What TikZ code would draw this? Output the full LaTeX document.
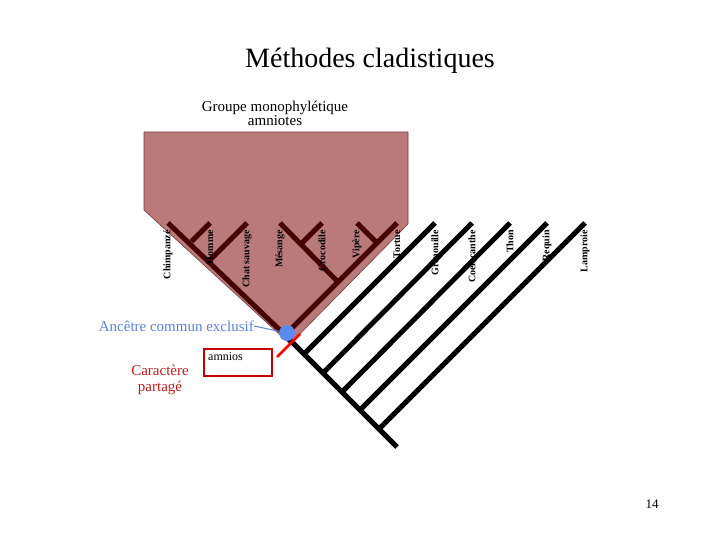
\documentclass[tikz,border=0pt]{standalone}
\usepackage{fontspec}
\setmainfont{Liberation Serif}
\definecolor{amnc}{RGB}{70,0,0}
\definecolor{pinkf}{RGB}{186,122,122}
\definecolor{pinkd}{RGB}{120,60,60}
\definecolor{boxred}{RGB}{200,0,0}
\definecolor{txtred}{RGB}{190,30,30}
\definecolor{dotb}{RGB}{90,140,240}
\definecolor{txtb}{RGB}{90,130,220}
\begin{document}
\begin{tikzpicture}[x=1pt,y=-1pt,
  amn/.style={line width=5pt,draw=amnc},
  oth/.style={line width=5pt,draw=black},
  lab/.style={rotate=90,anchor=east,font=\bfseries\fontsize{10}{12}\selectfont,inner sep=1pt}]
\useasboundingbox (0,0) rectangle (720,540);
\fill[white] (0,0) rectangle (720,540);
\node (title) at (370,61) {\fontsize{28}{32}\selectfont Méthodes cladistiques};
\node[align=center,font=\fontsize{15}{17}\selectfont] (grp) at (275,113) {Groupe monophylétique\\[-3pt]amniotes};
\fill[fill=pinkf,draw=pinkd,line width=0.6pt]
  (144,132) -- (408,132) -- (408,224) -- (290,344) -- (144,210) -- cycle;
\foreach \n/\x in {chi/168,hom/210,cha/247,mes/280,cro/322,vip/357,tor/397,gre/435,coe/472,tho/510,req/547,lam/585}
  \coordinate (\n) at (\x,223);
\coordinate (root) at (397,447);
\coordinate (jA) at (285,335);
\coordinate (jHo) at (191.5,241.5);
\coordinate (jCh) at (210,260);
\coordinate (jMe) at (338,282);
\coordinate (jCr) at (301,244);
\coordinate (jVi) at (377,243);
\coordinate (jGr) at (304,354);
\coordinate (jCo) at (323,373);
\coordinate (jTh) at (342,392);
\coordinate (jRe) at (360,410);
\coordinate (jLa) at (379,429);
\draw[oth] (jA) -- (root);
\draw[oth] (gre) -- (jGr);
\draw[oth] (coe) -- (jCo);
\draw[oth] (tho) -- (jTh);
\draw[oth] (req) -- (jRe);
\draw[oth] (lam) -- (jLa);
\draw[amn] (chi) -- (jA);
\draw[amn] (tor) -- (jA);
\draw[amn] (hom) -- (jHo);
\draw[amn] (cha) -- (jCh);
\draw[amn] (mes) -- (jMe);
\draw[amn] (cro) -- (jCr);
\draw[amn] (vip) -- (jVi);
\foreach \n/\t in {chi/Chimpanzé,hom/Homme,cha/Chat sauvage,mes/Mésange,cro/Crocodile,vip/Vipère,tor/Tortue,gre/Grenouille,coe/Coelacanthe,tho/Thon,req/Requin,lam/Lamproie}
  \node[lab] (l\n) at ([yshift=-6pt]\n) {\t};
\coordinate (t1) at (277,357); \coordinate (t2) at (300,334);
\draw[red,line width=2.5pt] (t1) -- (t2);
\node[draw=boxred,line width=2pt,minimum width=68pt,minimum height=27pt,anchor=north west,inner sep=0pt] (box) at (203,348) {};
\node[anchor=north west,font=\fontsize{12}{14}\selectfont,inner sep=0pt] (amn) at (208,352) {amnios};
\node[align=center,text=txtred,font=\fontsize{15}{18}\selectfont] (car) at (160,380) {Caractère\\[-2pt]partagé};
\node[circle,fill=dotb,minimum size=16pt,inner sep=0pt] (dot) at (287,333) {};
\node[anchor=east,text=txtb,font=\fontsize{15}{18}\selectfont,inner sep=0pt] (anc) at (254,326) {Ancêtre commun exclusif};
\draw[txtb,line width=1pt] (anc.east) -- (dot);
\node (pg) at (652,504) {\fontsize{13}{15}\selectfont 14};
\end{tikzpicture}
\end{document}
